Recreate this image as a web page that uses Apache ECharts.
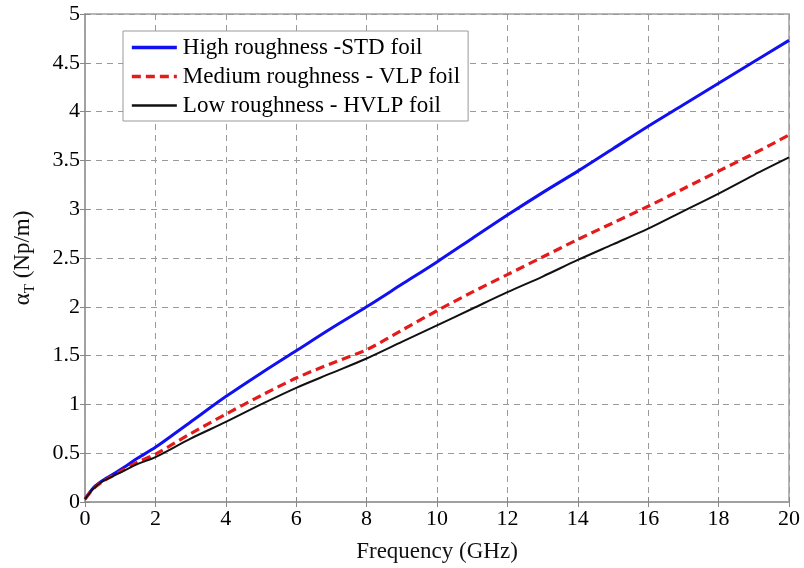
<!DOCTYPE html>
<html>
<head>
<meta charset="utf-8">
<script src="https://cdn.jsdelivr.net/npm/echarts@6/dist/echarts.min.js"></script>
<style>html,body{margin:0;padding:0;background:#fff}#c{width:804px;height:568px}</style>
</head>
<body>
<div id="c"></div>
<script>
const freq = [0, 0.25, 0.5, 1, 1.5, 2, 3, 4, 5, 6, 7, 8, 9, 10, 11, 12, 13, 14, 15, 16, 17, 18, 19, 20];
const highSTD = [0.03, 0.15, 0.22, 0.33, 0.45, 0.56, 0.82, 1.08, 1.32, 1.55, 1.78, 2.0, 2.23, 2.46, 2.7, 2.94, 3.17, 3.39, 3.62, 3.85, 4.07, 4.29, 4.51, 4.73];
const mediumVLP = [0.03, 0.14, 0.21, 0.31, 0.41, 0.49, 0.7, 0.9, 1.09, 1.27, 1.42, 1.56, 1.76, 1.96, 2.15, 2.33, 2.51, 2.69, 2.86, 3.03, 3.21, 3.39, 3.57, 3.76];
const lowHVLP = [0.03, 0.14, 0.21, 0.3, 0.39, 0.46, 0.65, 0.82, 1.0, 1.17, 1.32, 1.47, 1.64, 1.81, 1.98, 2.15, 2.31, 2.48, 2.64, 2.8, 2.98, 3.16, 3.35, 3.53];
const seriesNames = ['High roughness -STD foil', 'Medium roughness - VLP foil', 'Low roughness - HVLP foil'];
const xTicks = [0, 2, 4, 6, 8, 10, 12, 14, 16, 18, 20];
const yTicks = [0, 0.5, 1, 1.5, 2, 2.5, 3, 3.5, 4, 4.5, 5];

const font = '"Liberation Serif", "Times New Roman", serif';
const colors = ['#1010f0', '#e51a1a', '#111'];
const widths = [3, 3.2, 2];
const types = ['solid', [9, 5], 'solid'];
const pair = (ys) => freq.map((x, i) => [x, ys[i]]);
const gridLine = {show: true, lineStyle: {color: '#9a9a9a', type: [6, 5], width: 1}};
const axisLine = {show: true, lineStyle: {color: '#a0a0a0', width: 1.5}};
const tick = {show: true, inside: true, length: 5, lineStyle: {color: '#888'}};

const chart = echarts.init(document.getElementById('c'), null, {renderer: 'canvas'});
chart.setOption({
  animation: false,
  backgroundColor: '#fff',
  grid: {left: 85, right: 15, top: 14, bottom: 65, show: true, borderColor: '#a0a0a0', borderWidth: 1.5},
  legend: {
    orient: 'vertical', left: 123, top: 31,
    data: seriesNames.map((n, i) => ({name: n, lineStyle: {width: widths[i] + 0.5, color: colors[i], type: types[i]}})),
    backgroundColor: '#fff', borderColor: '#999', borderWidth: 1,
    padding: [5, 8, 4, 7], itemGap: 6, itemWidth: 45, itemHeight: 22,
    itemStyle: {opacity: 0},
    textStyle: {fontFamily: font, fontSize: 23, color: '#000', padding: [0, 0, 0, 1]}
  },
  xAxis: [{
    type: 'value', min: 0, max: 20, interval: 2,
    name: 'Frequency (GHz)', nameLocation: 'middle', nameGap: 38,
    nameTextStyle: {fontFamily: font, fontSize: 23, color: '#111'},
    axisLine: axisLine, axisTick: tick, splitLine: gridLine,
    axisLabel: {fontFamily: font, fontSize: 22, color: '#000', margin: 6,
      formatter: v => xTicks.includes(v) ? String(v) : ''}
  }, {
    type: 'value', position: 'top', min: 0, max: 20, interval: 2,
    axisLine: axisLine, axisTick: tick, axisLabel: {show: false}, splitLine: {show: false}
  }],
  yAxis: [{
    type: 'value', min: 0, max: 5, interval: 0.5,
    name: '{a|α}{s|T}{a| (Np/m)}', nameLocation: 'middle', nameGap: 47, nameRotate: 90,
    nameTextStyle: {rich: {
      a: {fontFamily: font, fontSize: 23, color: '#111', lineHeight: 30, verticalAlign: 'middle'},
      s: {fontFamily: font, fontSize: 15, color: '#111', lineHeight: 30, verticalAlign: 'bottom', padding: [12, 0, 0, 0]}
    }},
    axisLine: axisLine, axisTick: tick, splitLine: gridLine,
    axisLabel: {fontFamily: font, fontSize: 22, color: '#000', margin: 5,
      formatter: v => yTicks.includes(v) ? String(v) : ''}
  }, {
    type: 'value', position: 'right', min: 0, max: 5, interval: 0.5,
    axisLine: axisLine, axisTick: tick, axisLabel: {show: false}, splitLine: {show: false}
  }],
  series: [
    {name: seriesNames[0], type: 'line', data: pair(highSTD), symbol: 'none', smooth: 0.3,
     lineStyle: {color: colors[0], width: widths[0], type: types[0]}, itemStyle: {color: colors[0]}},
    {name: seriesNames[1], type: 'line', data: pair(mediumVLP), symbol: 'none', smooth: 0.3,
     lineStyle: {color: colors[1], width: widths[1], type: types[1]}, itemStyle: {color: colors[1]}},
    {name: seriesNames[2], type: 'line', data: pair(lowHVLP), symbol: 'none', smooth: 0.3,
     lineStyle: {color: colors[2], width: widths[2], type: types[2]}, itemStyle: {color: colors[2]}}
  ]
});
</script>
</body>
</html>
